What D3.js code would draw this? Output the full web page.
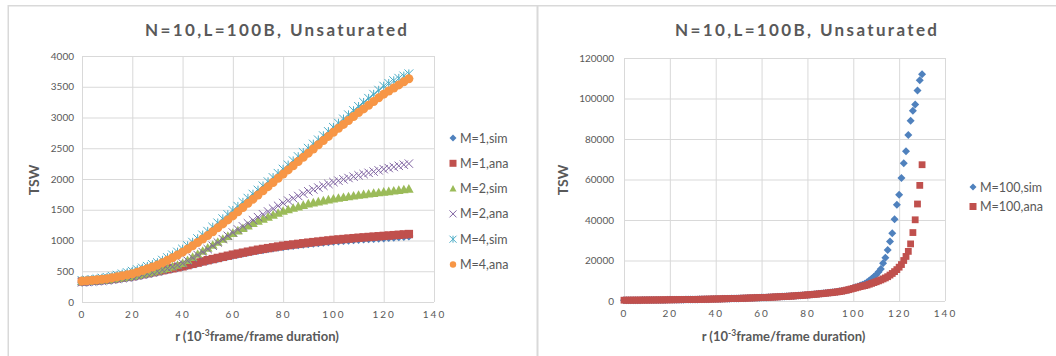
<!DOCTYPE html>
<html>
<head>
<meta charset="utf-8">
<script src="https://cdn.jsdelivr.net/npm/d3@7"></script>
<style>
  body { margin: 0; background: #fff; }
  svg text { font-family: Lato, "Open Sans", sans-serif; fill: #595959; }
</style>
</head>
<body>
<script>
//------------------------------------ data ------------------------------------
const chartTitle = "N=10,L=100B, Unsaturated";

// left chart: r sampled every 2 units
const rLeft = [0,2,4,6,8,10,12,14,16,18,20,22,24,26,28,30,32,34,36,38,40,42,44,46,48,50,52,54,56,58,60,
  62,64,66,68,70,72,74,76,78,80,82,84,86,88,90,92,94,96,98,100,102,104,106,108,110,112,114,116,118,120,
  122,124,126,128,130];

const m1Sim = [322,327,333,340,347,355,365,376,387,398,410,426,442,458,474,490,507,524,541,558,575,595,615,635,655,674,
  692,710,728,745,762,778,794,810,825,840,853,866,878,890,902,912,922,931,940,949,957,965,973,981,988,995,1001,1007,
  1013,1019,1024,1029,1034,1039,1044,1050,1056,1062,1068,1074];
const m1Ana = [335,340,346,352,358,365,375,386,397,408,420,436,452,468,484,500,516,532,548,564,580,600,620,640,660,680,
  698,716,734,752,770,786,802,818,834,850,863,876,889,902,915,925,935,945,955,965,974,983,992,1001,1010,1017,1024,1031,
  1038,1045,1051,1057,1063,1069,1075,1081,1087,1093,1099,1105];
const m2Sim = [335,340,346,352,358,365,375,386,397,408,420,436,454,472,490,510,530,552,576,602,630,680,730,780,830,880,
  928,976,1024,1072,1120,1160,1200,1240,1280,1320,1352,1384,1416,1448,1480,1504,1528,1552,1576,1600,1616,1632,1648,1664,
  1680,1692,1704,1716,1728,1740,1750,1760,1770,1780,1790,1800,1810,1820,1830,1840];
const m2Ana = [320,325,331,337,343,350,361,373,385,397,410,426,444,462,480,500,522,546,572,600,630,672,718,764,812,860,
  914,968,1022,1076,1130,1180,1230,1280,1330,1380,1426,1472,1518,1564,1610,1648,1686,1724,1762,1800,1830,1860,1890,1920,
  1950,1972,1994,2016,2038,2060,2080,2100,2120,2140,2160,2178,2196,2214,2232,2250];
const m4Sim = [350,358,366,376,388,400,418,436,456,478,500,526,552,580,610,640,680,722,766,812,860,916,972,1030,1090,1150,
  1218,1286,1354,1422,1490,1556,1622,1688,1754,1820,1888,1956,2024,2092,2160,2228,2296,2364,2432,2500,2568,2636,2704,2772,
  2840,2908,2976,3044,3112,3180,3246,3312,3378,3444,3510,3555,3598,3638,3675,3710];
const m4Ana = [340,346,353,361,370,380,394,410,426,442,460,485,512,540,570,600,638,678,720,764,810,862,914,968,1024,1080,
  1142,1206,1270,1335,1400,1468,1536,1604,1672,1740,1808,1876,1944,2012,2080,2148,2216,2284,2352,2420,2488,2556,2624,2692,
  2760,2824,2888,2952,3016,3080,3140,3200,3260,3320,3380,3430,3480,3530,3580,3630];

const leftNames = ["M=1,sim","M=1,ana","M=2,sim","M=2,ana","M=4,sim","M=4,ana"];
const leftYTicks = [0,500,1000,1500,2000,2500,3000,3500,4000];

// right chart: r sampled every unit
const rRight = [0,1,2,3,4,5,6,7,8,9,10,11,12,13,14,15,16,17,18,19,20,21,22,23,24,25,26,27,28,29,30,31,32,33,34,35,
  36,37,38,39,40,41,42,43,44,45,46,47,48,49,50,51,52,53,54,55,56,57,58,59,60,61,62,63,64,65,66,67,68,69,70,71,72,
  73,74,75,76,77,78,79,80,81,82,83,84,85,86,87,88,89,90,91,92,93,94,95,96,97,98,99,100,101,102,103,104,105,106,
  107,108,109,110,111,112,113,114,115,116,117,118,119,120,121,122,123,124,125,126,127,128,129,130];

const m100Sim = [380,390,395,400,410,415,420,425,435,445,455,465,475,490,500,510,520,535,550,565,
  580,595,610,625,640,655,675,695,715,735,755,775,795,815,835,860,880,905,930,955,
  980,1005,1035,1065,1095,1125,1155,1190,1225,1260,1295,1330,1365,1400,1440,1480,1520,1560,1605,1650,
  1695,1740,1785,1835,1885,1935,1990,2045,2105,2165,2225,2290,2355,2425,2500,2575,2655,2740,2830,2920,
  3010,3110,3210,3310,3420,3530,3650,3770,3900,4030,4160,4300,4450,4600,4760,4930,5110,5300,5500,5750,
  6400,6750,7150,7600,8050,8550,9300,10100,11000,12000,13000,14300,15800,18700,21400,25200,29400,33500,40400,47500,
  52500,60700,68000,74000,82000,89000,94000,97000,104000,109000,112000];
const m100Ana = [400,405,410,415,420,425,430,440,450,460,470,480,490,500,510,520,535,550,565,580,
  595,610,625,640,655,670,690,710,730,750,770,790,810,830,850,870,895,920,945,970,
  995,1020,1050,1080,1110,1140,1170,1200,1235,1270,1305,1340,1375,1410,1450,1490,1530,1570,1610,1655,
  1700,1745,1790,1840,1890,1940,1995,2050,2110,2170,2230,2295,2360,2430,2500,2580,2660,2740,2830,2920,
  3010,3100,3200,3300,3400,3510,3620,3740,3860,3980,4100,4230,4370,4510,4650,4850,5100,5350,5600,5900,
  6200,6500,6800,7100,7350,7600,7900,8300,8700,9100,9500,9950,10400,10900,11400,12000,12800,13600,14500,15500,
  16700,18000,20000,22000,24500,28200,33800,40100,47900,57100,67300];

const rightNames = ["M=100,sim","M=100,ana"];
const rightYTicks = [0,20000,40000,60000,80000,100000,120000];
const xTicks = [0,20,40,60,80,100,120,140];

//------------------------------------ init ------------------------------------
const width = 1056, height = 356;
const gridColor = "#d9d9d9";

const colors = {
  blue: "#4f81bd", red: "#c0504d", green: "#9bbb59",
  purple: "#8064a2", aqua: "#4bacc6", orange: "#f79646"
};

// excel-like marker shapes
const markerPath = {
  diamond: s => `M0,${-s}L${s},0L0,${s}L${-s},0Z`,
  square: s => `M${-s},${-s}H${s}V${s}H${-s}Z`,
  triangle: s => `M0,${-s}L${s},${s * 0.8}L${-s},${s * 0.8}Z`,
  cross: s => `M${-s},${-s}L${s},${s}M${-s},${s}L${s},${-s}`,
  star: s => `M${-s},${-s}L${s},${s}M${-s},${s}L${s},${-s}M0,${-s}V${s}`,
  circle: s => d3.symbol(d3.symbolCircle, Math.PI * s * s)()
};
const strokeOnly = { cross: true, star: true };

const svg = d3.select("body").append("svg")
  .attr("width", width)
  .attr("height", height);

//----------------------------- panel frames --------------------------------
svg.append("rect").attr("x", 8).attr("y", 5).attr("width", width - 8).attr("height", 1.5).attr("fill", gridColor);
svg.append("rect").attr("x", 7.5).attr("y", 5).attr("width", 1.5).attr("height", height).attr("fill", gridColor);
svg.append("rect").attr("x", 536.5).attr("y", 5).attr("width", 2).attr("height", height).attr("fill", gridColor);

//----------------------------- chart builder --------------------------------
function drawChart(opt) {
  const g = svg.append("g");
  const xScale = d3.scaleLinear().domain([0, 140]).range([opt.left, opt.right]);
  const yScale = d3.scaleLinear().domain([0, opt.yMax]).range([opt.bottom, opt.top]);

  // gridlines
  g.append("g")
    .attr("transform", `translate(0,${opt.bottom})`)
    .call(d3.axisBottom(xScale).tickValues(xTicks).tickSize(-(opt.bottom - opt.top)).tickFormat(""))
    .call(a => a.select(".domain").remove())
    .selectAll("line").attr("stroke", gridColor);
  g.append("g")
    .attr("transform", `translate(${opt.left},0)`)
    .call(d3.axisLeft(yScale).tickValues(opt.yTicks).tickSize(-(opt.right - opt.left)).tickFormat(""))
    .call(a => a.select(".domain").remove())
    .selectAll("line").attr("stroke", gridColor);

  // tick labels
  const xAxis = g.append("g")
    .attr("transform", `translate(0,${opt.bottom})`)
    .call(d3.axisBottom(xScale).tickValues(xTicks).tickSize(0).tickPadding(9));
  xAxis.select(".domain").remove();
  xAxis.selectAll("text")
    .attr("font-size", 10).attr("fill", "#595959")
    .attr("font-family", "Lato, sans-serif")
    .style("letter-spacing", "2px");

  const yAxis = g.append("g")
    .attr("transform", `translate(${opt.left},0)`)
    .call(d3.axisLeft(yScale).tickValues(opt.yTicks).tickSize(0).tickPadding(opt.yPad).tickFormat(d3.format("d")));
  yAxis.select(".domain").remove();
  yAxis.selectAll("text")
    .attr("font-size", 10).attr("fill", "#595959")
    .attr("font-family", "Lato, sans-serif");

  // series
  opt.series.forEach(s => {
    const stroked = strokeOnly[s.shape];
    g.append("g").selectAll("path")
      .data(s.values.map((v, i) => [opt.r[i], v]))
      .join("path")
      .attr("d", markerPath[s.shape](s.size))
      .attr("transform", d => `translate(${xScale(d[0])},${yScale(d[1])})`)
      .attr("fill", stroked ? "none" : s.color)
      .attr("stroke", stroked ? s.color : "none")
      .attr("stroke-width", 1);
  });

  // title
  g.append("text")
    .attr("x", opt.titleX).attr("y", 35.5)
    .attr("text-anchor", "middle")
    .attr("font-size", 17).attr("font-weight", "bold")
    .attr("textLength", 262).attr("lengthAdjust", "spacing")
    .text(chartTitle);

  // y label
  g.append("text")
    .attr("transform", `translate(${opt.yLabelX},180) rotate(-90)`)
    .attr("text-anchor", "middle")
    .attr("font-size", 14).attr("font-weight", "bold")
    .text("TSW");

  // x label
  const xl = g.append("text")
    .attr("x", (opt.left + opt.right) / 2 - 1).attr("y", 341)
    .attr("text-anchor", "middle")
    .attr("font-size", 13).attr("font-weight", "bold");
  xl.append("tspan").text("r (10");
  xl.append("tspan").attr("font-size", 8.5).attr("dy", -5).text("-3");
  xl.append("tspan").attr("dy", 5).text("frame/frame duration)");

  // legend
  opt.series.forEach((s, i) => {
    const ly = opt.legendY + i * opt.legendStep;
    const stroked = strokeOnly[s.shape];
    g.append("path")
      .attr("d", markerPath[s.shape](s.shape === "circle" ? 3.2 : 3.5))
      .attr("transform", `translate(${opt.legendX},${ly})`)
      .attr("fill", stroked ? "none" : s.color)
      .attr("stroke", stroked ? s.color : "none");
    g.append("text")
      .attr("x", opt.legendX + 7).attr("y", ly + 4.5)
      .attr("font-size", 12.5)
      .text(s.name);
  });
}

//------------------------------- PLOTTING ------------------------------------
drawChart({
  left: 82, right: 434, top: 56, bottom: 302, yMax: 4000, yTicks: leftYTicks, yPad: 8,
  r: rLeft, titleX: 276, yLabelX: 38.5,
  legendX: 453, legendY: 138, legendStep: 25.3,
  series: [
    { name: leftNames[0], values: m1Sim, color: colors.blue, shape: "diamond", size: 4.6 },
    { name: leftNames[1], values: m1Ana, color: colors.red, shape: "square", size: 4.2 },
    { name: leftNames[2], values: m2Sim, color: colors.green, shape: "triangle", size: 4.8 },
    { name: leftNames[3], values: m2Ana, color: colors.purple, shape: "cross", size: 4.2 },
    { name: leftNames[4], values: m4Sim, color: colors.aqua, shape: "star", size: 4.4 },
    { name: leftNames[5], values: m4Ana, color: colors.orange, shape: "circle", size: 4.5 }
  ]
});

drawChart({
  left: 624, right: 945, top: 58, bottom: 301, yMax: 120000, yTicks: rightYTicks, yPad: 10,
  r: rRight, titleX: 806, yLabelX: 568,
  legendX: 973, legendY: 187, legendStep: 19.5,
  series: [
    { name: rightNames[0], values: m100Sim, color: colors.blue, shape: "diamond", size: 4 },
    { name: rightNames[1], values: m100Ana, color: colors.red, shape: "square", size: 3.4 }
  ]
});
</script>
</body>
</html>
